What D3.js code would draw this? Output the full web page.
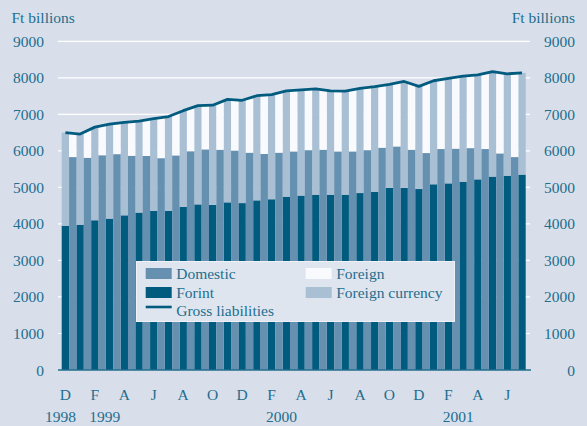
<!DOCTYPE html>
<html>
<head>
<meta charset="utf-8">
<script src="https://cdn.jsdelivr.net/npm/d3@7"></script>
<style>
  html, body { margin: 0; padding: 0; background: #d8dfeb; }
  svg { display: block; }
  text { font-family: "Liberation Serif", "Times New Roman", serif; fill: #236e8e; }
</style>
</head>
<body>
<svg id="chart" width="587" height="426"></svg>
<script>
// ---- data (Ft billions), monthly Dec 1998 – Jul 2001 ----
const months = ["D","J","F","M","A","M","J","J","A","S","O","N",
                "D","J","F","M","A","M","J","J","A","S","O","N",
                "D","J","F","M","A","M","J","J"];
const monthLabels = ["D","","F","","A","","J","","A","","O","",
                     "D","","F","","A","","J","","A","","O","",
                     "D","","F","","A","","J",""];
const years = [{label:"1998", m:0}, {label:"1999", m:2}, {label:"2000", m:14}, {label:"2001", m:26}];

// breakdown by currency
const forint = [3950,3980,4100,4145,4235,4310,4360,4360,4465,4535,4520,4590,
                4570,4645,4675,4745,4775,4800,4800,4800,4845,4875,4985,4985,
                4955,5085,5110,5155,5220,5295,5320,5350];
const foreignCurrency = [2550,2480,2550,2585,2545,2505,2520,2580,2635,2705,2730,2820,
                         2815,2865,2865,2895,2895,2895,2840,2835,2865,2885,2835,2915,
                         2810,2835,2875,2890,2860,2875,2790,2785];
// breakdown by residency (no figure for the last month)
const domestic = [5830,5810,5880,5910,5865,5860,5800,5875,5990,6040,6030,6010,
                  5950,5915,5950,5985,6020,6030,5985,5985,6020,6085,6120,6030,
                  5940,6050,6060,6075,6050,5930,5830];
const foreign = [650,745,810,845,930,990,1110,1145,1180,1205,1300,1390,
                 1500,1610,1640,1670,1665,1640,1655,1690,1715,1705,1740,1805,
                 1905,1905,1955,1990,2075,2210,2295];
// gross liabilities
const gross = [6500,6460,6650,6730,6780,6815,6880,6940,7100,7240,7250,7410,
               7385,7510,7540,7640,7670,7695,7640,7635,7710,7760,7820,7900,
               7765,7920,7985,8045,8080,8170,8110,8135];
const yTicks = [0,1000,2000,3000,4000,5000,6000,7000,8000,9000];

// ---- styles ----
const C = {
  forint: "#005b7f", fc: "#a9bfd4", domestic: "#6690b0", foreign: "#f8fafd",
  line: "#005b7f", grid: "#ffffff", axis: "#236e8e", legendBg: "#dfe5ef"
};

const svg = d3.select("#chart");
const plotL = 58, plotR = 530;
const x = d3.scaleBand().domain(d3.range(months.length)).range([61.7, 61.7 + 14.73 * months.length]).paddingInner(0).paddingOuter(0);
const y = d3.scaleLinear().domain([0, 9000]).range([370, 41.3]);
const bw = x.bandwidth() / 2;
const cx = i => x(i) + bw / 2;

// gridlines
svg.append("g").selectAll("line").data(yTicks.filter(d => d > 0)).join("line")
  .attr("x1", plotL).attr("x2", plotR)
  .attr("y1", d => y(d)).attr("y2", d => y(d))
  .attr("stroke", C.grid).attr("stroke-width", 1.2);

// currency bars (forint + foreign currency)
const gC = svg.append("g");
gC.selectAll("rect.f").data(forint).join("rect")
  .attr("x", (d, i) => x(i)).attr("width", bw)
  .attr("y", d => y(d)).attr("height", d => y(0) - y(d))
  .attr("fill", C.forint);
gC.selectAll("rect.fc").data(foreignCurrency).join("rect")
  .attr("x", (d, i) => x(i)).attr("width", bw)
  .attr("y", (d, i) => y(forint[i] + d)).attr("height", (d, i) => y(forint[i]) - y(forint[i] + d))
  .attr("fill", C.fc);

// residency bars (domestic + foreign)
const gR = svg.append("g");
gR.selectAll("rect.d").data(domestic).join("rect")
  .attr("x", (d, i) => x(i) + bw).attr("width", bw)
  .attr("y", d => y(d)).attr("height", d => y(0) - y(d))
  .attr("fill", C.domestic);
gR.selectAll("rect.fo").data(foreign).join("rect")
  .attr("x", (d, i) => x(i) + bw).attr("width", bw)
  .attr("y", (d, i) => y(domestic[i] + d)).attr("height", (d, i) => y(domestic[i]) - y(domestic[i] + d))
  .attr("fill", C.foreign);

// gross liabilities line
svg.append("path").datum(gross)
  .attr("d", d3.line().x((d, i) => cx(i)).y(d => y(d)))
  .attr("fill", "none").attr("stroke", C.line).attr("stroke-width", 2.8)
  .attr("stroke-linejoin", "round");

// bottom axis line
svg.append("line").attr("x1", plotL).attr("x2", plotR + 1)
  .attr("y1", y(0)).attr("y2", y(0))
  .attr("stroke", C.axis).attr("stroke-width", 1.5);

// y tick labels (left and right)
const fs = "15.5px";
svg.append("g").selectAll("text").data(yTicks).join("text")
  .attr("x", 44).attr("y", d => y(d) + 5.5).attr("text-anchor", "end")
  .style("font-size", fs).text(d => d);
svg.append("g").selectAll("text").data(yTicks).join("text")
  .attr("x", 575).attr("y", d => y(d) + 5.5).attr("text-anchor", "end")
  .style("font-size", fs).text(d => d);

// units
svg.append("text").attr("x", 11.5).attr("y", 23).style("font-size", fs).text("Ft billions");
svg.append("text").attr("x", 575).attr("y", 23).attr("text-anchor", "end").style("font-size", fs).text("Ft billions");

// month labels
svg.append("g").selectAll("text").data(monthLabels).join("text")
  .attr("x", (d, i) => cx(i)).attr("y", 400).attr("text-anchor", "middle")
  .style("font-size", fs).text(d => d);
// year labels
svg.append("g").selectAll("text").data(years).join("text")
  .attr("x", d => d.m === 0 ? cx(d.m) - 5 : cx(d.m) + 10).attr("y", 422).attr("text-anchor", "middle")
  .style("font-size", fs).text(d => d.label);

// legend
const lg = svg.append("g");
lg.append("rect").attr("x", 136.5).attr("y", 261.5).attr("width", 318).attr("height", 60)
  .attr("fill", C.legendBg).attr("stroke", "#eef2f8").attr("stroke-width", 1);
const items = [
  {label: "Domestic", type: "rect", color: C.domestic, x: 145.7, y: 273.5},
  {label: "Forint", type: "rect", color: C.forint, x: 145.7, y: 292.5},
  {label: "Gross liabilities", type: "line", color: C.line, x: 145.7, y: 310.5},
  {label: "Foreign", type: "rect", color: C.foreign, x: 305.7, y: 273.5},
  {label: "Foreign currency", type: "rect", color: C.fc, x: 305.7, y: 292.5}
];
items.forEach(it => {
  if (it.type === "rect") {
    lg.append("rect").attr("x", it.x).attr("y", it.y - 5.5).attr("width", 26).attr("height", 11).attr("fill", it.color);
  } else {
    lg.append("line").attr("x1", it.x).attr("x2", it.x + 26).attr("y1", it.y - 3.5).attr("y2", it.y - 3.5)
      .attr("stroke", it.color).attr("stroke-width", 2.6);
  }
  lg.append("text").attr("x", it.x + 30.5).attr("y", it.y + 5.5).style("font-size", fs).text(it.label);
});
</script>
</body>
</html>
